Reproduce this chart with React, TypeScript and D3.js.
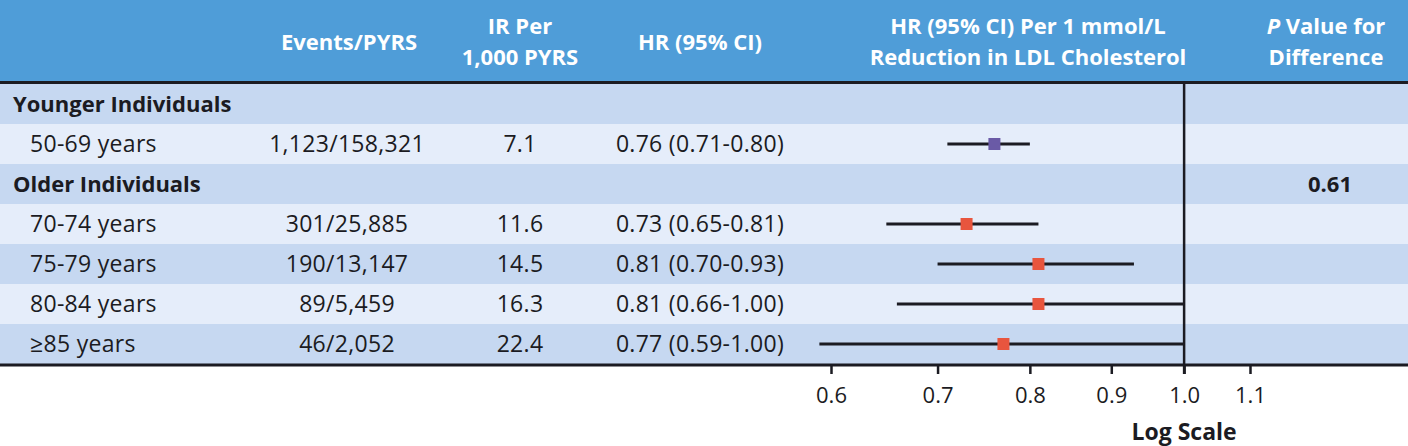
import React, { useEffect, useRef } from 'react';
import * as d3 from 'd3';

// table content
const groupLabels = ['Younger Individuals', 'Older Individuals'];
const groupPValues = ['', '0.61'];
const subgroupLabels = ['50-69 years', '70-74 years', '75-79 years', '80-84 years', '≥85 years'];
const subgroupGroupIndex = [0, 1, 1, 1, 1];
const eventsPyrs = ['1,123/158,321', '301/25,885', '190/13,147', '89/5,459', '46/2,052'];
const irPer1000 = ['7.1', '11.6', '14.5', '16.3', '22.4'];
const hrValues = [0.76, 0.73, 0.81, 0.81, 0.77];
const hrLower = [0.71, 0.65, 0.7, 0.66, 0.59];
const hrUpper = [0.8, 0.81, 0.93, 1.0, 1.0];
const axisTicks = [0.6, 0.7, 0.8, 0.9, 1.0, 1.1];

type Row = {
    kind: 'group' | 'sub';
    label: string;
    index: number;
};

const App: React.FC = () => {
    const ref = useRef<SVGSVGElement>(null);

    useEffect(() => {
        const width = 1408;
        const height = 446;
        const headerHeight = 82;
        const tableTop = 84;
        const tableBottom = 364;
        const font = "'Open Sans', 'Noto Sans', sans-serif";
        const textColor = '#1b1b22';
        const headerBlue = '#4f9dd8';
        const rowDark = '#c6d8f1';
        const rowLight = '#e5edfa';
        const youngColor = '#6a5aa6';
        const oldColor = '#e8553e';

        d3.select(ref.current).selectAll('*').remove();
        const svg = d3.select(ref.current).attr('width', width).attr('height', height);

        // rows in display order: each group followed by its subgroups
        const rows: Row[] = [];
        groupLabels.forEach((g, gi) => {
            rows.push({ kind: 'group', label: g, index: gi });
            subgroupLabels.forEach((s, si) => {
                if (subgroupGroupIndex[si] === gi) rows.push({ kind: 'sub', label: s, index: si });
            });
        });

        const yScale = d3
            .scaleBand<number>()
            .domain(rows.map((_, i) => i))
            .range([tableTop, tableBottom]);

        // log scale for the hazard ratios
        const xScale = d3.scaleLog().domain([0.6, 1.1]).range([831, 1250]);

        // header band
        svg.append('rect')
            .attr('x', 0)
            .attr('y', 0)
            .attr('width', width)
            .attr('height', headerHeight)
            .attr('fill', headerBlue);

        const headers = [
            { x: 349, lines: ['Events/PYRS'] },
            { x: 520, lines: ['IR Per', '1,000 PYRS'] },
            { x: 700, lines: ['HR (95% CI)'] },
            { x: 1028, lines: ['HR (95% CI) Per 1 mmol/L', 'Reduction in LDL Cholesterol'] },
            { x: 1326, lines: ['P Value for', 'Difference'] },
        ];

        // one text element per header, lines as tspans
        headers.forEach((h) => {
            const t = svg
                .append('text')
                .attr('x', h.x)
                .attr('y', h.lines.length === 1 ? 50 : 34)
                .attr('text-anchor', 'middle')
                .attr('fill', '#ffffff')
                .style('font-family', font)
                .style('font-size', '22px')
                .style('font-weight', 'bold');
            h.lines.forEach((line, li) => {
                const lineSpan = t
                    .append('tspan')
                    .attr('x', h.x)
                    .attr('dy', li === 0 ? 0 : 31);
                if (line.startsWith('P Value')) {
                    lineSpan.append('tspan').style('font-style', 'italic').text('P');
                    lineSpan.append('tspan').text(line.slice(1));
                } else {
                    lineSpan.text(line);
                }
            });
        });

        // row backgrounds, alternating
        svg.selectAll('rect.row-bg')
            .data(rows)
            .enter()
            .append('rect')
            .attr('class', 'row-bg')
            .attr('x', 0)
            .attr('y', (_, i) => yScale(i) ?? 0)
            .attr('width', width)
            .attr('height', yScale.bandwidth())
            .attr('fill', (_, i) => (i % 2 === 0 ? rowDark : rowLight));

        const rowText = (i: number) => (yScale(i) ?? 0) + yScale.bandwidth() / 2 + 8;

        rows.forEach((row, i) => {
            const baseY = rowText(i);
            const cell = (x: number, txt: string, anchor: string, bold = false) =>
                svg
                    .append('text')
                    .attr('x', x)
                    .attr('y', baseY)
                    .attr('text-anchor', anchor)
                    .attr('fill', textColor)
                    .style('font-family', font)
                    .style('font-size', bold ? '22px' : '23px')
                    .style('letter-spacing', bold ? '0px' : '0.3px')
                    .style('font-weight', bold ? 'bold' : 'normal')
                    .text(txt);

            if (row.kind === 'group') {
                cell(13, row.label, 'start', true);
                if (groupPValues[row.index]) cell(1330, groupPValues[row.index], 'middle', true);
            } else {
                const k = row.index;
                cell(30, row.label, 'start');
                cell(347, eventsPyrs[k], 'middle');
                cell(520, irPer1000[k], 'middle');
                cell(
                    700,
                    `${hrValues[k].toFixed(2)} (${hrLower[k].toFixed(2)}-${hrUpper[k].toFixed(2)})`,
                    'middle'
                );
            }
        });

        // header rule
        svg.append('line')
            .attr('x1', 0)
            .attr('x2', width)
            .attr('y1', 82.5)
            .attr('y2', 82.5)
            .attr('stroke', textColor)
            .attr('stroke-width', 3);

        // reference line at HR = 1
        svg.append('line')
            .attr('x1', xScale(1))
            .attr('x2', xScale(1))
            .attr('y1', tableTop)
            .attr('y2', tableBottom + 10)
            .attr('stroke', textColor)
            .attr('stroke-width', 2.5);

        // confidence intervals and point estimates
        const subRows = rows
            .map((r, i) => ({ ...r, pos: i }))
            .filter((r) => r.kind === 'sub');

        svg.selectAll('line.ci')
            .data(subRows)
            .enter()
            .append('line')
            .attr('class', 'ci')
            .attr('x1', (d) => xScale(hrLower[d.index]))
            .attr('x2', (d) => xScale(hrUpper[d.index]))
            .attr('y1', (d) => (yScale(d.pos) ?? 0) + yScale.bandwidth() / 2)
            .attr('y2', (d) => (yScale(d.pos) ?? 0) + yScale.bandwidth() / 2)
            .attr('stroke', textColor)
            .attr('stroke-width', 3);

        const markerSize = 12;
        svg.selectAll('rect.hr')
            .data(subRows)
            .enter()
            .append('rect')
            .attr('class', 'hr')
            .attr('x', (d) => xScale(hrValues[d.index]) - markerSize / 2)
            .attr('y', (d) => (yScale(d.pos) ?? 0) + yScale.bandwidth() / 2 - markerSize / 2)
            .attr('width', markerSize)
            .attr('height', markerSize)
            .attr('fill', (d) => (subgroupGroupIndex[d.index] === 0 ? youngColor : oldColor));

        // bottom rule
        svg.append('line')
            .attr('x1', 0)
            .attr('x2', width)
            .attr('y1', tableBottom + 1)
            .attr('y2', tableBottom + 1)
            .attr('stroke', textColor)
            .attr('stroke-width', 3);

        // x-axis
        const axisGroup = svg
            .append('g')
            .attr('transform', `translate(0,${tableBottom + 1})`)
            .call(
                d3
                    .axisBottom(xScale)
                    .tickValues(axisTicks)
                    .tickFormat((d) => d3.format('.1f')(d as number))
                    .tickSize(9)
                    .tickPadding(13)
            );

        axisGroup.select('.domain').remove();
        axisGroup.selectAll('line').attr('stroke', textColor).attr('stroke-width', 2.5);
        axisGroup
            .selectAll('text')
            .attr('fill', textColor)
            .style('font-family', font)
            .style('font-size', '22px');

        svg.append('text')
            .attr('x', xScale(1))
            .attr('y', 440)
            .attr('text-anchor', 'middle')
            .attr('fill', textColor)
            .style('font-family', font)
            .style('font-size', '23px')
            .style('font-weight', 'bold')
            .text('Log Scale');
    }, []);

    return (
        <div style={{ position: 'absolute', left: 0, top: 0 }}>
            <svg ref={ref} style={{ display: 'block' }}></svg>
        </div>
    );
};

export default App;
